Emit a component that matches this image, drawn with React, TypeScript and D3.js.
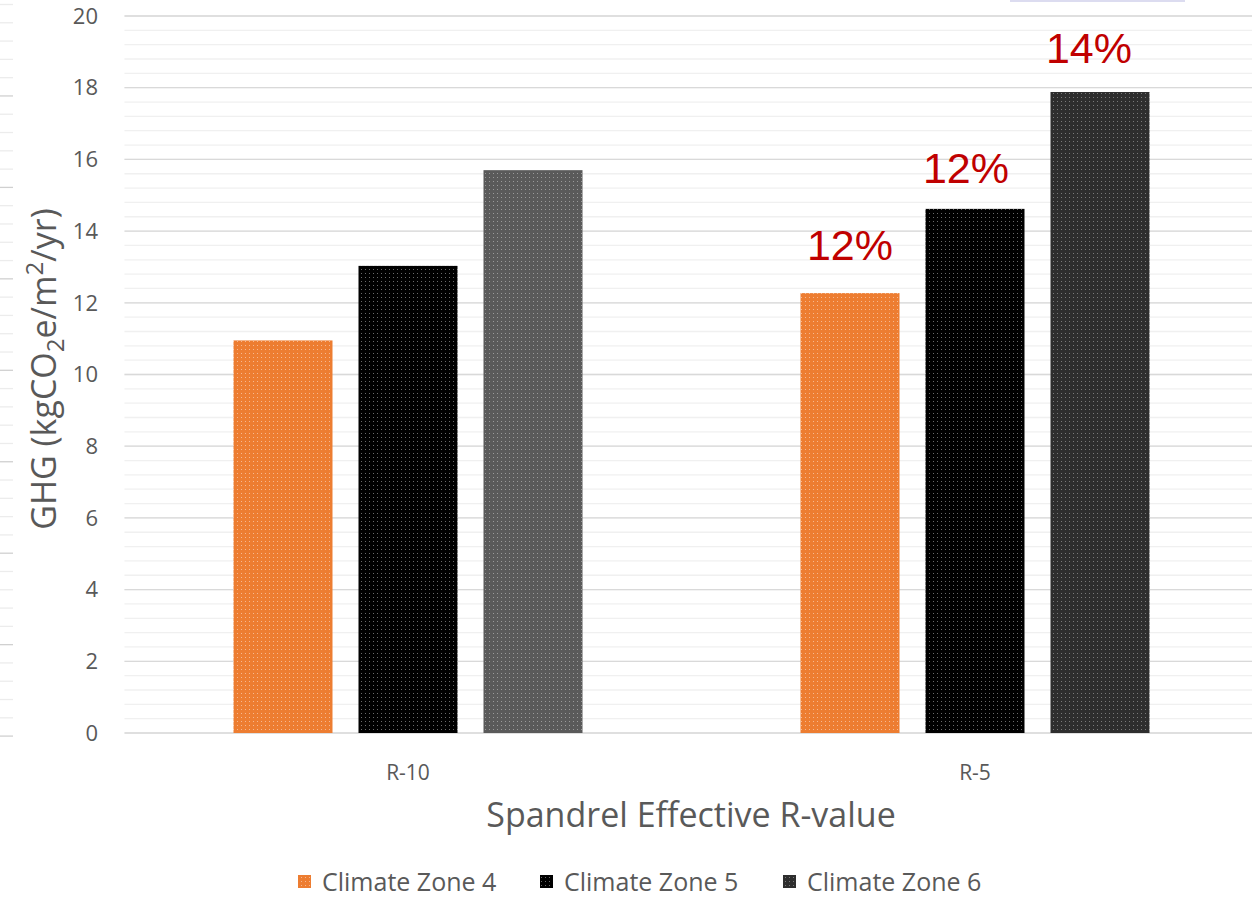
import React from "react";
import * as d3 from "d3";

const categories = ["R-10", "R-5"];
const seriesNames = ["Climate Zone 4", "Climate Zone 5", "Climate Zone 6"];
const zone4 = [10.95, 12.27];
const zone5 = [13.03, 14.62];
const zone6 = [15.7, 17.88];
const pctLabels = [["", "", ""], ["12%", "12%", "14%"]];
const yTicks = [0, 2, 4, 6, 8, 10, 12, 14, 16, 18, 20];

const W = 1252, H = 897;
const FONT = "'Open Sans', 'Noto Sans', sans-serif";
const LABEL_FONT = "'Liberation Sans', Arial, sans-serif";
const labelOffsets = [[30, 30, 30], [33, 26, 29]];
const labelDx = [[0, 0, 0], [0, -9, -11]];

// bar fill colors per category x series
const barColors = [
  ["#ED7D31", "#000000", "#5A5A5A"],
  ["#ED7D31", "#000000", "#2E2E2E"],
];
const dotColors = [
  ["#F6B890", "#6A6A6A", "#9A9A9A"],
  ["#F6B890", "#6A6A6A", "#7A7A7A"],
];
const legendColors = ["#ED7D31", "#000000", "#2E2E2E"];
const legendDots = ["#F6B890", "#6A6A6A", "#7A7A7A"];

export default function App() {
  const plotLeft = 124.5, plotRight = 1258.5, plotTop = 16, plotBottom = 733;
  const y = d3.scaleLinear().domain([0, 20]).range([plotBottom, plotTop]);
  const x0 = d3.scaleBand().domain(categories).range([plotLeft, plotRight]);
  const groupW = 349;
  const x1 = d3.scaleBand().domain(seriesNames).range([0, groupW]).paddingInner(0.208);
  const values = [zone4, zone5, zone6];
  const minorTicks = d3.range(0, 20.001, 0.4);

  const leftFrag = d3.range(0, 41).map((i) => 4.5 + i * 18.29);

  return (
    <svg width={W} height={H} style={{ position: "absolute", left: 0, top: 0, background: "#fff" }}>
      <defs>
        {categories.map((c, ci) =>
          seriesNames.map((s, si) => (
            <pattern key={`p${ci}${si}`} id={`p${ci}${si}`} width={4} height={4} patternUnits="userSpaceOnUse">
              <rect width={4} height={4} fill={barColors[ci][si]} />
              <rect x={1} y={1} width={1} height={1} fill={dotColors[ci][si]} />
            </pattern>
          ))
        )}
        {seriesNames.map((s, si) => (
          <pattern key={`l${si}`} id={`l${si}`} width={4} height={4} patternUnits="userSpaceOnUse">
            <rect width={4} height={4} fill={legendColors[si]} />
            <rect x={1} y={1} width={1} height={1} fill={legendDots[si]} />
          </pattern>
        ))}
      </defs>
      <rect width={W} height={H} fill="#fff" />
      {/* left edge fragments */}
      {leftFrag.filter((v) => v < 740).map((v, i) => (
        <line key={`lf${i}`} x1={0} x2={13} y1={v} y2={v}
          stroke={Math.abs(((v - 97) / 91.43) - Math.round((v - 97) / 91.43)) < 0.05 && v > 90 ? "#d0d0d0" : "#ececec"} strokeWidth={1.3} />
      ))}
      {/* minor gridlines */}
      {minorTicks.map((t, i) => (
        <line key={`m${i}`} x1={plotLeft} x2={plotRight} y1={y(t)} y2={y(t)} stroke="#f0f0f0" strokeWidth={1.3} />
      ))}
      {yTicks.map((t) => (
        <line key={`g${t}`} x1={plotLeft} x2={plotRight} y1={y(t)} y2={y(t)} stroke="#d9d9d9" strokeWidth={1.3} />
      ))}
      {/* faint artifact top right */}
      <rect x={1010} y={0} width={175} height={2} fill="#dcdcf0" />
      {/* bars */}
      {categories.map((c, ci) => {
        const gx = x0(c)! + (x0.bandwidth() - groupW) / 2;
        return seriesNames.map((s, si) => {
          const v = values[si][ci];
          const bx = gx + x1(s)!;
          return (
            <g key={`${c}${s}`}>
              <rect x={bx} y={y(v)} width={x1.bandwidth()} height={plotBottom - y(v)} fill={`url(#p${ci}${si})`} />
              {pctLabels[ci][si] && (
                <text x={bx + x1.bandwidth() / 2 + labelDx[ci][si]} y={y(v) - labelOffsets[ci][si]} textAnchor="middle" fontFamily={LABEL_FONT} fontSize={43} fill="#C00000">
                  {pctLabels[ci][si]}
                </text>
              )}
            </g>
          );
        });
      })}
      {/* y tick labels */}
      {yTicks.map((t) => (
        <text key={`yt${t}`} x={98} y={y(t)} dy="0.35em" textAnchor="end" fontFamily={FONT} fontSize={22} fill="#595959">
          {t}
        </text>
      ))}
      {/* y axis title */}
      <text transform={`translate(56,369) rotate(-90)`} textAnchor="middle" fontFamily={FONT} fontSize={34} fill="#595959">
        GHG (kgCO<tspan fontSize={24} dy={8}>2</tspan><tspan dy={-8}>e/m</tspan><tspan fontSize={24} dy={-13}>2</tspan><tspan dy={13}>/yr)</tspan>
      </text>
      {/* x tick labels */}
      {categories.map((c) => (
        <text key={`xt${c}`} x={x0(c)! + x0.bandwidth() / 2} y={780} textAnchor="middle" fontFamily={FONT} fontSize={21} fill="#595959">
          {c}
        </text>
      ))}
      <text x={691} y={827} textAnchor="middle" fontFamily={FONT} fontSize={34} fill="#595959">
        Spandrel Effective R-value
      </text>
      {/* legend */}
      {seriesNames.map((s, si) => {
        const lx = [298, 540, 783][si];
        return (
          <g key={`lg${s}`}>
            <rect x={lx} y={875} width={13} height={13} fill={`url(#l${si})`} />
            <text x={lx + 24} y={882} dy="0.35em" fontFamily={FONT} fontSize={25} fill="#595959">
              {s}
            </text>
          </g>
        );
      })}
    </svg>
  );
}
